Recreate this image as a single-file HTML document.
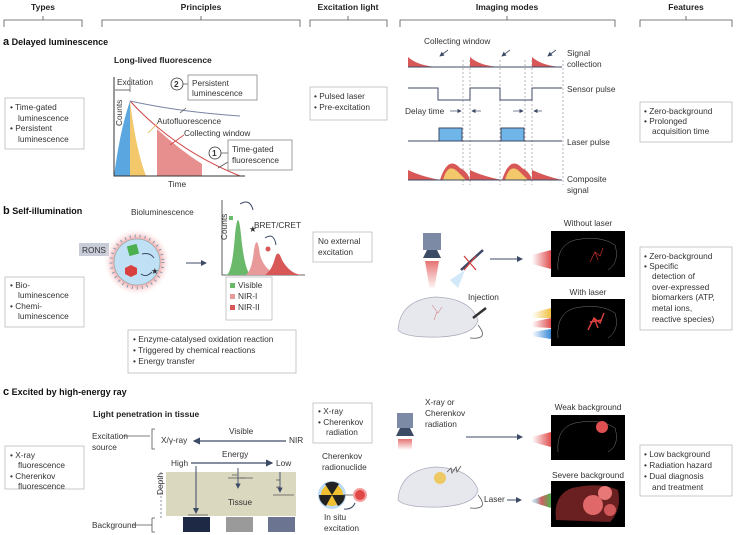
<!DOCTYPE html>
<html><head><meta charset="utf-8"><style>
html,body{margin:0;padding:0;background:#fff}
svg{display:block}
text{font-family:"Liberation Sans",sans-serif;fill:#333;font-size:8.3px}
.h{font-weight:bold;font-size:8.5px;fill:#222}
.sec{font-weight:bold;font-size:9px;fill:#111}
.b{fill:#fff;stroke:#bbb;stroke-width:.8}
.ln{stroke:#555;stroke-width:.8;fill:none}
.dk{stroke:#3d4a66;stroke-width:1;fill:none}
.ds{stroke:#888;stroke-width:.6;stroke-dasharray:2 2;fill:none}
</style></head><body>
<svg width="738" height="535" viewBox="0 0 738 535" xmlns="http://www.w3.org/2000/svg">
<defs>
<marker id="ar" markerWidth="6" markerHeight="6" refX="5" refY="3" orient="auto"><path d="M0,0 L6,3 L0,6z" fill="#3d4a66"/></marker>
<radialGradient id="glow"><stop offset="0.6" stop-color="#f08080"/><stop offset="1" stop-color="#fff" stop-opacity="0"/></radialGradient>
<linearGradient id="beam" x1="0" y1="0" x2="0" y2="1"><stop offset="0" stop-color="#e05050"/><stop offset="1" stop-color="#fff"/></linearGradient>
<linearGradient id="rg" x1="1" y1="0" x2="0" y2="0"><stop offset="0" stop-color="#e05050"/><stop offset="1" stop-color="#fff"/></linearGradient>
<linearGradient id="yg" x1="1" y1="0" x2="0" y2="0"><stop offset="0" stop-color="#f0c040"/><stop offset="1" stop-color="#fff"/></linearGradient>
<linearGradient id="bg" x1="1" y1="0" x2="0" y2="0"><stop offset="0" stop-color="#3a8ad8"/><stop offset="1" stop-color="#fff"/></linearGradient>
<linearGradient id="mg" x1="1" y1="0" x2="0" y2="0"><stop offset="0" stop-color="#50b050"/><stop offset=".5" stop-color="#d06060"/><stop offset="1" stop-color="#60c0e0" stop-opacity=".3"/></linearGradient>
</defs>

<!-- headers -->
<text class="h" x="43" y="10" text-anchor="middle">Types</text>
<text class="h" x="201" y="10" text-anchor="middle">Principles</text>
<text class="h" x="348" y="10" text-anchor="middle">Excitation light</text>
<text class="h" x="507" y="10" text-anchor="middle">Imaging modes</text>
<text class="h" x="686" y="10" text-anchor="middle">Features</text>
<path class="ln" d="M4,27 V20 H82 V27 M43,20 V16 M102,27 V20 H300 V27 M201,20 V16 M310,27 V20 H387 V27 M348,20 V16 M400,27 V20 H615 V27 M507,20 V16 M640,27 V20 H732 V27 M686,20 V16"/>

<!-- ===== a ===== -->
<text class="sec" x="3" y="45"><tspan font-size="11">a</tspan> Delayed luminescence</text>
<text class="h" x="114" y="63">Long-lived fluorescence</text>
<rect class="b" x="5" y="98" width="79" height="51"/>
<text x="10" y="110">• Time-gated</text><text x="18" y="121">luminescence</text>
<text x="10" y="131">• Persistent</text><text x="18" y="142">luminescence</text>
<path d="M114,176 Q120,130 130,101 V176 Z" fill="#5aa6e0"/>
<path d="M130,101 Q136,150 146,176 H130 Z" fill="#f2c86a"/>
<path d="M157,176 V129 Q180,150 202,164 V176 Z" fill="#e78f8f"/>
<path d="M130,101 Q175,150 240,176" stroke="#d04545" stroke-width="1" fill="none"/>
<path d="M130,101 Q180,112 240,116" stroke="#7a86a6" stroke-width="1" fill="none"/>
<path d="M114,77 V176 H245" stroke="#333" stroke-width="1" fill="none"/>
<path d="M115,90 H130" stroke="#333" stroke-width=".7"/><path d="M130,77 V92" stroke="#333" stroke-width=".6"/>
<text x="117" y="85">Excitation</text>
<text x="110" y="138" transform="rotate(-90 110 126)">Counts</text>
<text x="168" y="187">Time</text>
<text x="157" y="124">Autofluorescence</text>
<text x="184" y="136">Collecting window</text>
<path d="M157,124 L148,133" stroke="#e9b54a" stroke-width=".8"/>
<path d="M184,135 L170,145" stroke="#d04545" stroke-width=".8"/>
<circle cx="177" cy="84" r="6" fill="#fff" stroke="#333" stroke-width=".8"/><text x="174" y="87" font-weight="bold">2</text>
<path d="M183,84 H188 M186,108 L180,113" class="ln"/>
<rect class="b" x="188" y="75" width="69" height="25" style="stroke:#888"/>
<text x="192" y="86">Persistent</text><text x="192" y="96">luminescence</text>
<circle cx="215" cy="153" r="6" fill="#fff" stroke="#333" stroke-width=".8"/><text x="212" y="156" font-weight="bold">1</text>
<path d="M221,153 H228 M228,162 L218,168" class="ln"/>
<rect class="b" x="228" y="140" width="64" height="30" style="stroke:#888"/>
<text x="232" y="152">Time-gated</text><text x="232" y="163">fluorescence</text>
<rect class="b" x="310" y="87" width="77" height="33"/>
<text x="314" y="99">• Pulsed laser</text><text x="314" y="110">• Pre-excitation</text>
<text x="424" y="44">Collecting window</text>
<path class="ds" d="M463,60 V185 M470,60 V185 M500,60 V185 M525,60 V185 M532,60 V185 M563,60 V185"/>
<path d="M408,67 V57 Q418,66 438,67 Z M470,67 V57 Q480,66 500,67 Z M532,67 V57 Q542,66 562,67 Z" fill="#d85858"/>
<path class="dk" d="M408,67 H562"/>
<path d="M448,50 L440,56" stroke="#3d4a66" stroke-width=".8" marker-end="url(#ar)"/>
<path d="M510,50 L502,56" stroke="#3d4a66" stroke-width=".8" marker-end="url(#ar)"/>
<path d="M556,50 L548,56" stroke="#3d4a66" stroke-width=".8" marker-end="url(#ar)"/>
<path class="dk" d="M408,88 H438 V100 H470 V88 H500 V100 H532 V88 H562"/>
<path d="M439,128 H462 V141 H439Z M501,128 H524 V141 H501Z" fill="#6fb5e8" stroke="#3d4a66"/>
<path class="dk" d="M408,141 H562"/>
<path d="M408,180 V170 Q420,176 440,180 Z M440,180 Q448,155 460,168 Q468,172 470,180Z M470,180 V170 Q482,176 502,180 Z M502,180 Q510,155 522,168 Q530,172 532,180Z M532,180 V170 Q545,176 562,180Z" fill="#d85858"/>
<path d="M443,180 Q448,162 458,172 L466,180Z M505,180 Q510,162 520,172 L528,180Z" fill="#f2c86a"/>
<path class="dk" d="M408,180 H562"/>
<text x="405" y="114">Delay time</text>
<path d="M450,111 H461" stroke="#3d4a66" stroke-width=".7" marker-end="url(#ar)"/>
<path d="M481,111 H472" stroke="#3d4a66" stroke-width=".7" marker-end="url(#ar)"/>
<path d="M513,111 H523" stroke="#3d4a66" stroke-width=".7" marker-end="url(#ar)"/>
<path d="M542,111 H534" stroke="#3d4a66" stroke-width=".7" marker-end="url(#ar)"/>
<text x="567" y="56">Signal</text><text x="567" y="67">collection</text>
<text x="567" y="92">Sensor pulse</text>
<text x="567" y="145">Laser pulse</text>
<text x="567" y="182">Composite</text><text x="567" y="193">signal</text>
<rect class="b" x="640" y="102" width="92" height="40"/>
<text x="644" y="114">• Zero-background</text><text x="644" y="124">• Prolonged</text><text x="652" y="134">acquisition time</text>

<!-- ===== b ===== -->
<text class="sec" x="3" y="214"><tspan font-size="11">b</tspan> Self-illumination</text>
<text x="131" y="215">Bioluminescence</text>
<rect x="79" y="243" width="30" height="13" fill="#c8ccd8"/><text x="82" y="253">RONS</text>
<circle cx="137" cy="262" r="34" fill="url(#glow)"/>
<circle cx="137" cy="262" r="26" fill="none" stroke="#8898b0" stroke-width="3" stroke-dasharray="1 4"/>
<circle cx="137" cy="262" r="23" fill="#bfe0f5" stroke="#9aa" stroke-width=".8"/>
<rect x="128" y="245" width="10" height="10" fill="#4caf50" transform="rotate(-15 133 250)"/>
<path d="M131,265 l6,3 v6 l-6,3 l-6,-3 v-6z" fill="#d94040"/>
<text x="151" y="274" fill="#e07070" font-size="12">★</text>
<path d="M142,254 Q150,252 154,258 M152,272 Q146,278 141,274" class="dk"/>
<path d="M186,263 H206" stroke="#3d4a66" stroke-width="1" marker-end="url(#ar)"/>
<path d="M222,200 V275 H305" stroke="#333" stroke-width=".8" fill="none"/>
<text x="217" y="250" font-size="7" transform="rotate(-90 217 240)">Counts</text>
<path d="M226,275 Q232,275 235,235 Q238,205 241,235 Q245,275 252,275Z" fill="#6ab86a"/>
<path d="M246,275 Q252,270 254,250 Q257,232 260,255 Q265,272 280,275Z" fill="#e89a9a"/>
<path d="M265,275 Q272,270 275,258 Q278,248 282,260 Q290,274 302,275Z" fill="#d85858"/>
<rect x="229" y="216" width="4" height="4" fill="#6ab86a"/>
<text x="249" y="232" fill="#e07070" font-size="9">★</text>
<circle cx="268" cy="249" r="2.5" fill="#d85858"/>
<text x="254" y="228">BRET/CRET</text>
<path d="M240,204 Q250,198 253,210 M265,238 Q274,232 276,245" class="dk" stroke-width=".7"/>
<rect class="b" x="226" y="277" width="46" height="43"/>
<rect x="230" y="283" width="5" height="5" fill="#6ab86a"/><text x="238" y="288">Visible</text>
<rect x="230" y="294" width="5" height="5" fill="#e89a9a"/><text x="238" y="299">NIR-I</text>
<rect x="230" y="305" width="5" height="5" fill="#d85858"/><text x="238" y="310">NIR-II</text>
<rect class="b" x="5" y="277" width="79" height="50"/>
<text x="10" y="288">• Bio-</text><text x="18" y="298">luminescence</text>
<text x="10" y="309">• Chemi-</text><text x="18" y="319">luminescence</text>
<rect class="b" x="128" y="330" width="168" height="43"/>
<text x="133" y="342">• Enzyme-catalysed oxidation reaction</text>
<text x="133" y="353">• Triggered by chemical reactions</text>
<text x="133" y="364">• Energy transfer</text>
<rect class="b" x="313" y="232" width="59" height="30"/>
<text x="318" y="244">No external</text><text x="318" y="255">excitation</text>
<rect x="423" y="233" width="18" height="17" fill="#7d8aa5"/>
<path d="M427,250 H437 L441,258 H423Z" fill="#3d4a66"/>
<path d="M425,261 H439 L434,290 H430Z" fill="url(#beam)" opacity=".8"/>
<path d="M398,330 Q400,300 435,297 Q470,298 478,320 Q475,335 440,337 Q405,338 398,330Z" fill="#e6e8ee" stroke="#aab" stroke-width=".7"/>
<path d="M478,325 Q490,340 470,338" class="ln"/>
<path d="M432,305 l6,8 l4,-6 M437,312 l-3,8" stroke="#d06060" stroke-width=".5" fill="none"/>
<path d="M461,270 L483,250" stroke="#3d4a66" stroke-width="2.5"/><path d="M464,256 L476,270 M476,256 L464,270" stroke="#d04040" stroke-width="1.3"/>
<path d="M450,280 L465,270 L458,288Z" fill="#bde0f5" opacity=".7"/>
<text x="468" y="300">Injection</text>
<path d="M473,318 L486,308" stroke="#333" stroke-width="2.5"/>
<path d="M490,259 H522" stroke="#3d4a66" stroke-width="1" marker-end="url(#ar)"/>
<path d="M532,255 L551,250 V269 L532,264Z" fill="url(#rg)"/>
<path d="M532,313 L551,308 V318 L532,318Z" fill="url(#yg)"/>
<path d="M532,322 L551,318 V328 L532,327Z" fill="url(#rg)"/>
<path d="M532,332 L551,329 V339 L532,336Z" fill="url(#bg)"/>
<text x="588" y="226" text-anchor="middle">Without laser</text>
<rect x="551" y="231" width="74" height="46" fill="#000"/>
<path d="M558,270 Q556,245 575,240 Q600,235 615,245 Q620,262 608,270" stroke="#777" stroke-width=".5" fill="none"/>
<path d="M590,262 l5,-10 l5,4 l3,-8 M595,252 l3,8" stroke="#c83030" stroke-width=".7" fill="none"/>
<text x="588" y="295" text-anchor="middle">With laser</text>
<rect x="551" y="299" width="74" height="47" fill="#000"/>
<path d="M558,338 Q556,313 575,308 Q600,303 615,313 Q620,330 608,338" stroke="#777" stroke-width=".5" fill="none"/>
<path d="M588,330 l6,-12 l6,5 l4,-10 M594,318 l4,10 M590,322 l12,-2" stroke="#e04040" stroke-width="1.4" fill="none"/>
<rect class="b" x="640" y="247" width="92" height="83"/>
<text x="644" y="259">• Zero-background</text><text x="644" y="269">• Specific</text>
<text x="652" y="279">detection of</text><text x="652" y="290">over-expressed</text>
<text x="652" y="300">biomarkers (ATP,</text><text x="652" y="311">metal ions,</text><text x="652" y="322">reactive species)</text>

<!-- ===== c ===== -->
<text class="sec" x="3" y="395"><tspan font-size="11">c</tspan> Excited by high-energy ray</text>
<text class="h" x="93" y="417">Light penetration in tissue</text>
<text x="92" y="439">Excitation</text><text x="92" y="450">source</text>
<path class="ln" d="M123,436 H150 M155,429 H152 V449 H155 M152,518 H155 M152,518 V532 H155 M133,525 H152"/>
<text x="161" y="443">X/γ-ray</text>
<path d="M286,441 H194" stroke="#3d4a66" stroke-width="1.2" marker-end="url(#ar)"/>
<text x="289" y="443">NIR</text>
<text x="229" y="434">Visible</text>
<text x="222" y="457">Energy</text>
<text x="171" y="466">High</text>
<path d="M191,463 H272" stroke="#3d4a66" stroke-width="1.2" marker-end="url(#ar)"/>
<text x="276" y="466">Low</text>
<rect x="166" y="472" width="130" height="44" fill="#dbd8c0"/>
<path class="ds" d="M161,472 V518" style="stroke:#3d4a66"/>
<text x="158" y="500" transform="rotate(-90 158 495)" font-size="7.5">Depth</text>
<path d="M196,466 V513" stroke="#3d4a66" stroke-width="1" marker-end="url(#ar)"/>
<path d="M188,515 H208 M228,478 H253 M273,495 H294" class="ln"/>
<path d="M238,468 V488" stroke="#3d4a66" stroke-width=".9" marker-end="url(#ar)"/>
<path d="M280,472 V492" stroke="#3d4a66" stroke-width=".9" marker-end="url(#ar)"/>
<path d="M232,475 h5 M245,478 h-5 M276,480 h4 M276,487 h4" class="ln"/>
<text x="228" y="505">Tissue</text>
<text x="92" y="528">Background</text>
<rect x="183" y="517" width="27" height="15" fill="#1e2a45"/>
<rect x="226" y="517" width="27" height="15" fill="#9a9a9a"/>
<rect x="268" y="517" width="27" height="15" fill="#6b7592"/>
<rect class="b" x="5" y="446" width="79" height="43"/>
<text x="10" y="458">• X-ray</text><text x="18" y="468">fluorescence</text>
<text x="10" y="479">• Cherenkov</text><text x="18" y="489">fluorescence</text>
<rect class="b" x="313" y="403" width="59" height="40"/>
<text x="318" y="414">• X-ray</text><text x="318" y="425">• Cherenkov</text><text x="326" y="435">radiation</text>
<text x="322" y="459">Cherenkov</text><text x="322" y="470">radionuclide</text>
<circle cx="332" cy="495" r="14" fill="#7fb8e8" opacity=".5"/>
<circle cx="332" cy="495" r="11" fill="#f0c030"/>
<path d="M332,495 L325,484 A12,12 0 0,1 339,484Z M332,495 L345,495 A12,12 0 0,1 338,506Z M332,495 L326,506 A12,12 0 0,1 319,495Z" fill="#222"/>
<path d="M343,495 H354" class="ln"/>
<circle cx="360" cy="495" r="6" fill="#e04848" stroke="#f5a0a0" stroke-width="2"/>
<path d="M344,509 Q352,510 355,503" class="dk" stroke-width=".7"/>
<text x="324" y="520">In situ</text><text x="324" y="531">excitation</text>
<rect x="397" y="413" width="16" height="15" fill="#7d8aa5"/>
<path d="M400,428 H410 L414,436 H396Z" fill="#3d4a66"/>
<path d="M398,439 H412 V450 H398Z" fill="url(#beam)" opacity=".8"/>
<text x="425" y="405">X-ray or</text><text x="425" y="416">Cherenkov</text><text x="425" y="427">radiation</text>
<path d="M466,437 H522" stroke="#3d4a66" stroke-width="1" marker-end="url(#ar)"/>
<path d="M398,500 Q400,470 435,467 Q470,468 478,490 Q475,505 440,507 Q405,508 398,500Z" fill="#e6e8ee" stroke="#aab" stroke-width=".7"/>
<path d="M478,495 Q490,510 470,508" class="ln"/>
<circle cx="440" cy="478" r="6" fill="#f0c040" opacity=".8"/>
<path d="M447,472 l4,-4 l1,5 l4,-6 l1,5 l4,-6" class="ln"/>
<text x="484" y="502">Laser</text>
<path d="M507,500 H521" stroke="#3d4a66" stroke-width="1" marker-end="url(#ar)"/>
<path d="M532,437 L551,432 V447 L532,442Z" fill="url(#rg)"/>
<path d="M532,500 L551,493 V508 L532,502Z" fill="url(#mg)"/>
<text x="588" y="410" text-anchor="middle">Weak background</text>
<rect x="551" y="415" width="74" height="45" fill="#000"/>
<path d="M558,452 Q556,428 575,423 Q600,418 615,428 Q620,445 608,452" stroke="#777" stroke-width=".5" fill="none"/>
<circle cx="602" cy="427" r="6" fill="#e05050"/>
<text x="588" y="478" text-anchor="middle">Severe background</text>
<rect x="551" y="481" width="74" height="46" fill="#000"/>
<path d="M556,520 Q553,495 572,488 Q600,482 618,490 Q622,510 610,522 Z" fill="#6a2020"/>
<circle cx="593" cy="505" r="10" fill="#e06868"/><circle cx="605" cy="493" r="7" fill="#e87878"/><circle cx="610" cy="510" r="6" fill="#d05858"/>
<rect class="b" x="640" y="445" width="92" height="51"/>
<text x="644" y="457">• Low background</text><text x="644" y="468">• Radiation hazard</text>
<text x="644" y="479">• Dual diagnosis</text><text x="652" y="490">and treatment</text>
</svg>
</body></html>
